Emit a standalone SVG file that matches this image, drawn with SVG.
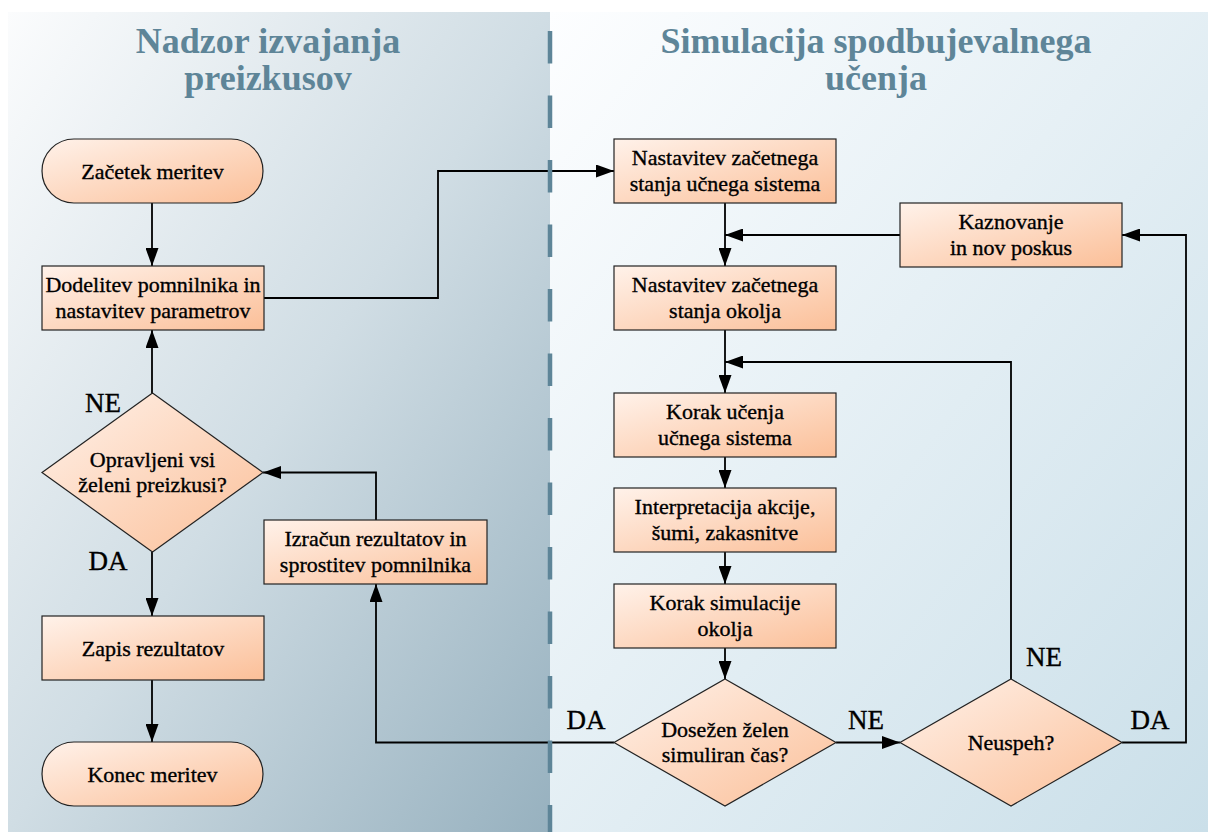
<svg xmlns="http://www.w3.org/2000/svg" width="1208" height="832" viewBox="0 0 1208 832">
<defs>
<linearGradient id="gLeft" x1="0" y1="0" x2="1" y2="1">
<stop offset="0" stop-color="#fbfcfd"/>
<stop offset="0.5" stop-color="#d0dde4"/>
<stop offset="1" stop-color="#97b1bf"/>
</linearGradient>
<linearGradient id="gRight" x1="0" y1="0" x2="1" y2="1">
<stop offset="0" stop-color="#fdfeff"/>
<stop offset="1" stop-color="#cadfe9"/>
</linearGradient>
<linearGradient id="gNode" x1="0" y1="0" x2="1" y2="1">
<stop offset="0" stop-color="#fff2ea"/>
<stop offset="1" stop-color="#fbbf98"/>
</linearGradient>
<marker id="arr" markerUnits="userSpaceOnUse" markerWidth="18" markerHeight="13" refX="18" refY="6.5" orient="auto">
<path d="M0,0 L18,6.5 L0,13 z" fill="#000"/>
</marker>
<style>
.node{fill:url(#gNode);stroke:#222;stroke-width:1.2}
.t{font-family:"Liberation Serif","Times New Roman",serif;font-size:22px;fill:#000;text-anchor:middle;stroke:#000;stroke-width:0.35}
.lbl{font-family:"Liberation Serif","Times New Roman",serif;font-size:27px;fill:#000;text-anchor:middle;stroke:#000;stroke-width:0.35}
.title{font-family:"Liberation Serif","Times New Roman",serif;font-size:36px;font-weight:bold;fill:#5e8598;text-anchor:middle}
.ca{fill:none;stroke:#000;stroke-width:1.8;marker-end:url(#arr)}
</style>
</defs>

<g id="background">
<rect x="8" y="12" width="542" height="820" fill="url(#gLeft)"/>
<rect x="550" y="12" width="658" height="820" fill="url(#gRight)"/>
</g>

<g id="titles">
<text class="title" x="268" y="53">Nadzor izvajanja</text>
<text class="title" x="268" y="90">preizkusov</text>
<text class="title" x="876" y="53">Simulacija spodbujevalnega</text>
<text class="title" x="876" y="90">učenja</text>
</g>

<g id="connectors">
<line class="ca" x1="152" y1="203" x2="152" y2="266"/>
<polyline class="ca" points="264,298 438,298 438,171 614,171"/>
<line class="ca" x1="152" y1="393" x2="152" y2="330"/>
<line class="ca" x1="152" y1="552" x2="152" y2="616"/>
<line class="ca" x1="152" y1="680" x2="152" y2="742"/>
<polyline class="ca" points="376,520 376,472.5 263,472.5"/>
<polyline class="ca" points="614,742.5 376,742.5 376,584"/>
<line class="ca" x1="725" y1="203" x2="725" y2="266"/>
<line class="ca" x1="900" y1="235" x2="725" y2="235"/>
<line class="ca" x1="725" y1="330" x2="725" y2="393"/>
<polyline class="ca" points="1011,679 1011,362 725,362"/>
<line class="ca" x1="725" y1="457" x2="725" y2="488"/>
<line class="ca" x1="725" y1="552" x2="725" y2="584"/>
<line class="ca" x1="725" y1="648" x2="725" y2="679"/>
<line class="ca" x1="836" y1="742.5" x2="900" y2="742.5"/>
<polyline class="ca" points="1122,742.5 1186,742.5 1186,235 1122,235"/>
<text class="lbl" x="103" y="412">NE</text>
<text class="lbl" x="108" y="570">DA</text>
<text class="lbl" x="586" y="729">DA</text>
<text class="lbl" x="866" y="729">NE</text>
<text class="lbl" x="1150" y="729">DA</text>
<text class="lbl" x="1044" y="666">NE</text>
</g>

<g id="separator">
<line x1="550" y1="31" x2="550" y2="832" stroke="#5e8598" stroke-width="4.5" stroke-dasharray="32.5 32"/>
</g>

<g id="nodes">
<g id="n-zacetek">
<rect class="node" x="42" y="139" width="221" height="64" rx="32" ry="32"/>
<text class="t" x="152.5" y="179">Začetek meritev</text>
</g>
<g id="n-dodelitev">
<rect class="node" x="42" y="266" width="222" height="64"/>
<text class="t" x="153" y="292">Dodelitev pomnilnika in</text>
<text class="t" x="153" y="318">nastavitev parametrov</text>
</g>
<g id="n-opravljeni">
<polygon class="node" points="152.5,393 263,472.5 152.5,552 42,472.5"/>
<text class="t" x="152.5" y="467">Opravljeni vsi</text>
<text class="t" x="152.5" y="492">želeni preizkusi?</text>
</g>
<g id="n-zapis">
<rect class="node" x="42" y="616" width="222" height="64"/>
<text class="t" x="153" y="656">Zapis rezultatov</text>
</g>
<g id="n-konec">
<rect class="node" x="42" y="742" width="221" height="64" rx="32" ry="32"/>
<text class="t" x="152.5" y="782">Konec meritev</text>
</g>
<g id="n-izracun">
<rect class="node" x="264" y="520" width="223" height="64"/>
<text class="t" x="375.5" y="546">Izračun rezultatov in</text>
<text class="t" x="375.5" y="572">sprostitev pomnilnika</text>
</g>
<g id="n-nastavitev1">
<rect class="node" x="614" y="139" width="222" height="64"/>
<text class="t" x="725" y="165">Nastavitev začetnega</text>
<text class="t" x="725" y="191">stanja učnega sistema</text>
</g>
<g id="n-kaznovanje">
<rect class="node" x="900" y="203" width="222" height="64"/>
<text class="t" x="1011" y="229">Kaznovanje</text>
<text class="t" x="1011" y="255">in nov poskus</text>
</g>
<g id="n-nastavitev2">
<rect class="node" x="614" y="266" width="222" height="64"/>
<text class="t" x="725" y="292">Nastavitev začetnega</text>
<text class="t" x="725" y="318">stanja okolja</text>
</g>
<g id="n-korak-ucenja">
<rect class="node" x="614" y="393" width="222" height="64"/>
<text class="t" x="725" y="419">Korak učenja</text>
<text class="t" x="725" y="445">učnega sistema</text>
</g>
<g id="n-interpretacija">
<rect class="node" x="614" y="488" width="222" height="64"/>
<text class="t" x="725" y="514">Interpretacija akcije,</text>
<text class="t" x="725" y="540">šumi, zakasnitve</text>
</g>
<g id="n-korak-simulacije">
<rect class="node" x="614" y="584" width="222" height="64"/>
<text class="t" x="725" y="610">Korak simulacije</text>
<text class="t" x="725" y="636">okolja</text>
</g>
<g id="n-dosezen">
<polygon class="node" points="725,679 836,742.5 725,806 614,742.5"/>
<text class="t" x="725" y="737">Dosežen želen</text>
<text class="t" x="725" y="762">simuliran čas?</text>
</g>
<g id="n-neuspeh">
<polygon class="node" points="1011,679 1122,742.5 1011,806 900,742.5"/>
<text class="t" x="1011" y="750">Neuspeh?</text>
</g>
</g>
</svg>
